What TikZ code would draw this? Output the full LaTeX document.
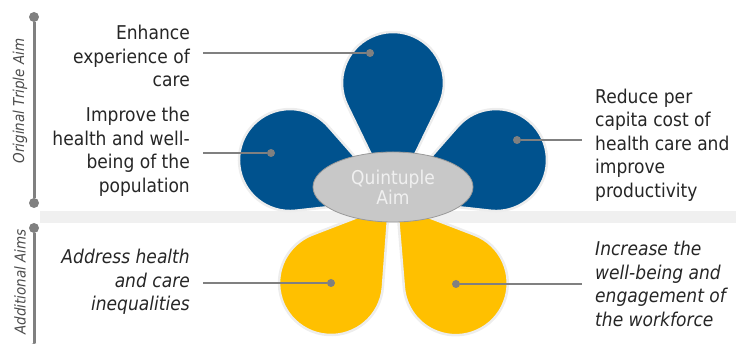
\documentclass[tikz,border=0pt]{standalone}
\usepackage{fontspec}
\setmainfont{DejaVu Sans}[FakeStretch=0.9]
\usepackage{tikz}
\usetikzlibrary{shapes}
\definecolor{petalblue}{HTML}{00528E}
\definecolor{petalyellow}{HTML}{FFC000}
\definecolor{dotgray}{HTML}{808080}
\definecolor{bandgray}{HTML}{F0F0F0}
\definecolor{hubgray}{HTML}{C8C8C8}
\tikzstyle{petal}=[draw=white!93!black,line width=2.5pt]
\tikzstyle{aim}=[inner xsep=13pt,inner ysep=0pt,font=\fontsize{19}{23.5}\selectfont,text=black!85]
\tikzstyle{dot}=[circle,fill=dotgray,minimum size=8pt,inner sep=0pt]
\tikzstyle{conn}=[draw=dotgray,line width=1.6pt]
\tikzstyle{rule}=[draw=dotgray,line width=3pt]
\tikzstyle{group}=[rotate=90,font=\fontsize{15}{17}\selectfont\itshape,text=black!70]

\newcommand{\drawpetal}[6]{%
  \pgfmathsetmacro\pang{180-acos(#5/#4)}
  \begin{scope}[shift={(#1,#2)},rotate=#3]
    \draw[petal,fill=#6] (0,0) -- ([shift={(\pang:#5)}]#4,0)
      arc[start angle=\pang,end angle=-\pang,radius=#5pt] -- cycle;
  \end{scope}}

\begin{document}
\begin{tikzpicture}[x=1pt,y=1pt]
  \useasboundingbox (0,0) rectangle (736,344);
  \fill[bandgray] (40,121) rectangle (736,133);

  \node[dot,minimum size=10pt] (r1) at (34,327) {};
  \node[dot,minimum size=10pt] (r2) at (34,141) {};
  \node[dot,minimum size=10pt] (r3) at (34,116) {};
  \node[dot,minimum size=10pt] (r4) at (34,-4) {};
  \draw[rule] (r1) -- (r2);
  \draw[rule] (r3) -- (r4);
  \node[group] (gOrig) at (20,243) {Original Triple Aim};
  \node[group] (gAdd) at (20,62) {Additional Aims};

  \drawpetal{389}{139}{233.4}{97.2}{52}{petalyellow}
  \drawpetal{397}{139}{306.9}{97.8}{52}{petalyellow}
  \drawpetal{393}{144}{158.8}{110.5}{51}{petalblue}
  \drawpetal{393}{144}{21.2}{110.5}{51}{petalblue}
  \drawpetal{393}{144}{90}{117}{51}{petalblue}

  \node[ellipse,fill=hubgray,draw=black!40,line width=0.8pt,minimum width=160pt,minimum height=70pt,
        align=center,text=white!94!black,font=\fontsize{19}{20}\selectfont] (hub) at (393,157) {Quintuple\\Aim};

  \node[dot] (dEnh) at (370,291) {};
  \node[dot] (dImp) at (271,191) {};
  \node[dot] (dRed) at (517,204) {};
  \node[dot] (dAdd) at (331,61) {};
  \node[dot] (dInc) at (456,60) {};

  \node[aim,anchor=east,align=right] (tEnh) at (203,288) {Enhance\\experience of\\care};
  \node[aim,anchor=east,align=right] (tImp) at (203,192) {Improve the\\health and well-\\being of the\\population};
  \node[aim,anchor=west,align=left] (tRed) at (582,199) {Reduce per\\capita cost of\\health care and\\improve\\productivity};
  \node[aim,anchor=east,align=right,font=\fontsize{19}{23.5}\selectfont\itshape] (tAdd) at (203,62) {Address health\\and care\\inequalities};
  \node[aim,anchor=west,align=left,font=\fontsize{19}{23.5}\selectfont\itshape] (tInc) at (582,60) {Increase the\\well-being and\\engagement of\\the workforce};

  \draw[conn] (dEnh) -- (tEnh.east |- dEnh);
  \draw[conn] (dImp) -- (tImp.east |- dImp);
  \draw[conn] (dRed) -- (tRed.west |- dRed);
  \draw[conn] (dAdd) -- (tAdd.east |- dAdd);
  \draw[conn] (dInc) -- (tInc.west |- dInc);
\end{tikzpicture}
\end{document}
